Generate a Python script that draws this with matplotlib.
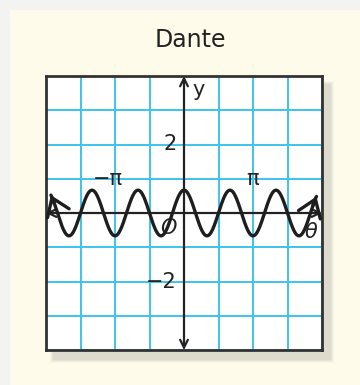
import numpy as np
import matplotlib
matplotlib.use("Agg")
import matplotlib.pyplot as plt
from matplotlib.patches import Rectangle

# ---- data ----
title = "Dante"
amplitude = 2 / 3          # peak height of the curve
frequency = 3              # y = a*cos(3θ)
theta_start, theta_end = -6.06, 6.03
x_ticks = [-np.pi, np.pi]
x_tick_labels = ["−π", "π"]
y_ticks = [2, -2]
y_tick_labels = ["2", "−2"]
x_limits = (-2 * np.pi, 2 * np.pi)
y_limits = (-4, 4)

W, H = 360, 385
fig = plt.figure(figsize=(W / 100, H / 100), dpi=100)
fig.patch.set_facecolor("#F3F3F1")

def fx(px):
    return px / W

def fy(py):
    return 1 - py / H

# cream panel
fig.patches.append(Rectangle((fx(10), 0), 1, fy(10), transform=fig.transFigure,
                             facecolor="#FEFBEA", edgecolor="none", zorder=-3))

# drop shadow
for i, a in enumerate([0.06, 0.08, 0.10, 0.12]):
    g = 4 - i
    fig.patches.append(Rectangle((fx(54 - g), fy(359 + g)), fx(276 + 2 * g), (274 + 2 * g) / H,
                                 transform=fig.transFigure, facecolor="#9A9A94",
                                 edgecolor="none", alpha=a, zorder=-2))

ax = fig.add_axes([fx(46), fy(350), fx(276), 274 / H])
ax.set_zorder(1)
ax.set_facecolor("white")
ax.set_xlim(*x_limits)
ax.set_ylim(*y_limits)
ax.set_xticks(np.arange(-2 * np.pi, 2 * np.pi + 0.01, np.pi / 2))
ax.set_yticks(np.arange(-4, 5, 1))
ax.grid(True, color="#3EC3EC", linewidth=1.4)
ax.tick_params(length=0, labelbottom=False, labelleft=False)
for s in ax.spines.values():
    s.set_color("#333333")
    s.set_linewidth(2)

# axes with arrows
ax.annotate("", xy=(x_limits[1], 0), xytext=(x_limits[0], 0),
            arrowprops=dict(arrowstyle="<->", color="#222222", lw=1.6,
                            mutation_scale=14, shrinkA=0, shrinkB=0))
ax.annotate("", xy=(0, y_limits[1]), xytext=(0, y_limits[0]),
            arrowprops=dict(arrowstyle="<->", color="#222222", lw=1.6,
                            mutation_scale=14, shrinkA=0, shrinkB=0))

# curve
theta = np.linspace(theta_start, theta_end, 600)
yv = amplitude * np.cos(frequency * theta)
ax.plot(theta, yv, color="#1E1E1E", lw=2.4, solid_capstyle="round", zorder=5)
for i0, i1 in [(8, 0), (-9, -1)]:
    ax.annotate("", xy=(theta[i1], yv[i1]), xytext=(theta[i0], yv[i0]),
                arrowprops=dict(arrowstyle="->,head_length=0.5,head_width=0.35",
                                color="#1E1E1E", lw=2.4,
                                mutation_scale=24, shrinkA=0, shrinkB=0), zorder=6)

# labels
lab = dict(color="#222222", fontsize=15, family="DejaVu Sans")
ax.text(-3.46, 0.98, x_tick_labels[0], ha="center", va="center", **lab)
ax.text(x_ticks[1], 0.98, x_tick_labels[1], ha="center", va="center", **lab)
for t, s in zip(y_ticks, y_tick_labels):
    ax.text(-0.33, t, s, ha="right", va="center", **lab)
ax.text(-0.73, -0.45, "O", ha="center", va="center", style="italic", **lab)
ax.text(5.8, -0.55, "θ", ha="center", va="center", style="italic", **lab)
ax.text(0.68, 3.6, "y", ha="center", va="center", **lab)

fig.text(fx(190), fy(40), title, ha="center", va="center", fontsize=17,
         color="#222222", family="DejaVu Sans")

fig.savefig("out.png", dpi=100, facecolor=fig.get_facecolor())
